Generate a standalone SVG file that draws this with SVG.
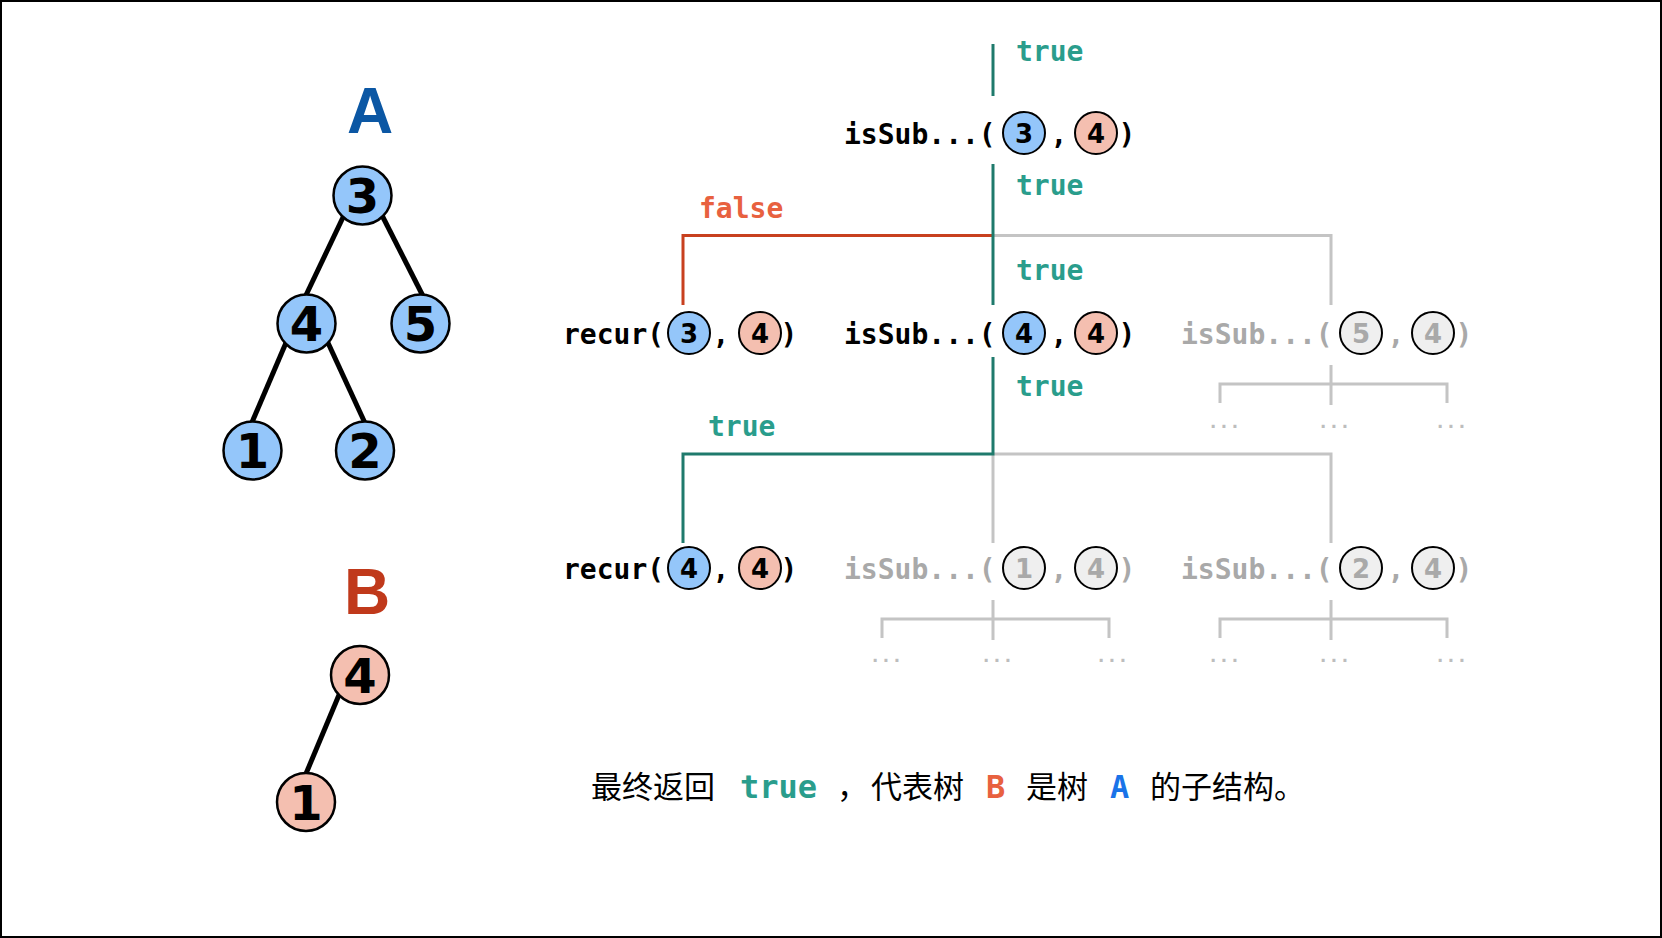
<svg xmlns="http://www.w3.org/2000/svg" width="1662" height="938" viewBox="0 0 1662 938">
<style>
.code{font-family:"DejaVu Sans Mono","Liberation Mono",monospace;font-weight:bold;font-size:28px;fill:#000}
.gtext{fill:#A9A9A9}
.lbl{font-family:"DejaVu Sans Mono","Liberation Mono",monospace;font-weight:bold;font-size:28px}
.tl{fill:#2A9D8C}
.fl{fill:#E8613F}
.dig{font-family:"DejaVu Sans","Liberation Sans",sans-serif;font-weight:bold;font-size:26px;text-anchor:middle;fill:#000}
.gdig{fill:#A9A9A9}
.big{font-family:"DejaVu Sans","Liberation Sans",sans-serif;font-weight:bold;font-size:48px;text-anchor:middle;fill:#000}
.cb{fill:#94C6FA;stroke:#000;stroke-width:2}
.cp{fill:#F4BFB0;stroke:#000;stroke-width:2}
.cg{fill:#EFEFEF;stroke:#000;stroke-width:2}
.tb{fill:#94C6FA;stroke:#000;stroke-width:2.5}
.tp{fill:#F4BFB0;stroke:#000;stroke-width:2.5}
.edge{stroke:#000;stroke-width:5;fill:none}
.teal{stroke:#1F7A6C;stroke-width:3;fill:none}
.red{stroke:#C8401F;stroke-width:3;fill:none}
.grey{stroke:#C4C4C4;stroke-width:3;fill:none}
.dots{font-family:"DejaVu Sans Mono",monospace;font-size:18px;font-weight:bold;fill:#BDBDBD;text-anchor:middle}
.mid{text-anchor:middle}
.cap{font-family:"Noto Sans CJK SC","Noto Sans",sans-serif;font-size:31px;fill:#000}
.capm{font-family:"DejaVu Sans Mono",monospace;font-weight:bold;font-size:32px}
</style>
<rect x="1" y="1" width="1660" height="936" fill="#fff" stroke="#000" stroke-width="2"/>

<!-- Tree A -->
<g id="treeA">
<text x="370" y="133" font-family="Liberation Sans, DejaVu Sans, sans-serif" font-weight="bold" font-size="64" text-anchor="middle" fill="#0B57A4">A</text>
<line class="edge" x1="346.5" y1="210" x2="303.7" y2="300"/>
<line class="edge" x1="379.3" y1="210" x2="425" y2="300"/>
<line class="edge" x1="289.3" y1="335" x2="248.7" y2="430"/>
<line class="edge" x1="324.4" y1="335" x2="368.2" y2="430"/>
<g id="a3"><circle class="tb" cx="362.5" cy="195.5" r="29"/><text class="big" x="362.5" y="213">3</text></g>
<g id="a4"><circle class="tb" cx="306.5" cy="323.5" r="29"/><text class="big" x="306.5" y="341">4</text></g>
<g id="a5"><circle class="tb" cx="420.5" cy="323.5" r="29"/><text class="big" x="420.5" y="341">5</text></g>
<g id="a1"><circle class="tb" cx="252.5" cy="450.5" r="29"/><text class="big" x="252.5" y="468">1</text></g>
<g id="a2"><circle class="tb" cx="365" cy="450.5" r="29"/><text class="big" x="365" y="468">2</text></g>
</g>

<!-- Tree B -->
<g id="treeB">
<text x="367" y="614" font-family="Liberation Sans, DejaVu Sans, sans-serif" font-weight="bold" font-size="64" text-anchor="middle" fill="#C0391B">B</text>
<line class="edge" x1="341.9" y1="688" x2="302.5" y2="782"/>
<g id="b4"><circle class="tp" cx="360" cy="675" r="29"/><text class="big" x="360" y="692.5">4</text></g>
<g id="b1"><circle class="tp" cx="306" cy="802" r="29"/><text class="big" x="306" y="819.5">1</text></g>
</g>

<!-- connectors -->
<g id="connectors">
<path class="grey" d="M993 235.5 H1331 V305"/>
<path class="red" d="M683 305 V235.5 H993"/>
<path class="teal" d="M993 44 V96"/>
<path class="teal" d="M993 164 V305"/>
<path class="grey" d="M993 454 V543"/>
<path class="grey" d="M993 454 H1331 V543"/>
<path class="teal" d="M993 357 V454 H683 V543"/>
<path class="grey" d="M1220 403 V384 H1447 V403 M1331 365 V405"/>
<path class="grey" d="M882 638 V619 H1109 V638 M993 600 V640"/>
<path class="grey" d="M1220 638 V619 H1447 V638 M1331 600 V640"/>
</g>

<!-- edge labels -->
<g id="labels">
<text class="lbl tl" x="1016" y="61">true</text>
<text class="lbl tl" x="1016" y="195">true</text>
<text class="lbl fl" x="699" y="218">false</text>
<text class="lbl tl" x="1016" y="280">true</text>
<text class="lbl tl" x="1016" y="396">true</text>
<text class="lbl tl" x="708" y="436">true</text>
</g>

<!-- Row 1 -->
<g id="isSub_3_4">
<text class="code" x="844" y="144">isSub...(</text>
<circle class="cb" cx="1024" cy="133" r="21"/><text class="dig" x="1024" y="142.5">3</text>
<text class="code mid" x="1059" y="144">,</text>
<circle class="cp" cx="1096" cy="133" r="21"/><text class="dig" x="1096" y="142.5">4</text>
<text class="code mid" x="1127" y="144">)</text>
</g>

<!-- Row 2 -->
<g id="recur_3_4">
<text class="code" x="563" y="344">recur(</text>
<circle class="cb" cx="689" cy="333" r="21"/><text class="dig" x="689" y="342.5">3</text>
<text class="code mid" x="721" y="344">,</text>
<circle class="cp" cx="760" cy="333" r="21"/><text class="dig" x="760" y="342.5">4</text>
<text class="code mid" x="789" y="344">)</text>
</g>
<g id="isSub_4_4">
<text class="code" x="844" y="344">isSub...(</text>
<circle class="cb" cx="1024" cy="333" r="21"/><text class="dig" x="1024" y="342.5">4</text>
<text class="code mid" x="1059" y="344">,</text>
<circle class="cp" cx="1096" cy="333" r="21"/><text class="dig" x="1096" y="342.5">4</text>
<text class="code mid" x="1127" y="344">)</text>
</g>
<g id="isSub_5_4">
<text class="code gtext" x="1181" y="344">isSub...(</text>
<circle class="cg" cx="1361" cy="333" r="21"/><text class="dig gdig" x="1361" y="342.5">5</text>
<text class="code gtext mid" x="1396" y="344">,</text>
<circle class="cg" cx="1433" cy="333" r="21"/><text class="dig gdig" x="1433" y="342.5">4</text>
<text class="code gtext mid" x="1464" y="344">)</text>
<text class="dots" x="1224" y="428">...</text>
<text class="dots" x="1334" y="428">...</text>
<text class="dots" x="1451" y="428">...</text>
</g>

<!-- Row 3 -->
<g id="recur_4_4">
<text class="code" x="563" y="579">recur(</text>
<circle class="cb" cx="689" cy="568" r="21"/><text class="dig" x="689" y="577.5">4</text>
<text class="code mid" x="721" y="579">,</text>
<circle class="cp" cx="760" cy="568" r="21"/><text class="dig" x="760" y="577.5">4</text>
<text class="code mid" x="789" y="579">)</text>
</g>
<g id="isSub_1_4">
<text class="code gtext" x="844" y="579">isSub...(</text>
<circle class="cg" cx="1024" cy="568" r="21"/><text class="dig gdig" x="1024" y="577.5">1</text>
<text class="code gtext mid" x="1059" y="579">,</text>
<circle class="cg" cx="1096" cy="568" r="21"/><text class="dig gdig" x="1096" y="577.5">4</text>
<text class="code gtext mid" x="1127" y="579">)</text>
<text class="dots" x="886" y="662">...</text>
<text class="dots" x="997" y="662">...</text>
<text class="dots" x="1112" y="662">...</text>
</g>
<g id="isSub_2_4">
<text class="code gtext" x="1181" y="579">isSub...(</text>
<circle class="cg" cx="1361" cy="568" r="21"/><text class="dig gdig" x="1361" y="577.5">2</text>
<text class="code gtext mid" x="1396" y="579">,</text>
<circle class="cg" cx="1433" cy="568" r="21"/><text class="dig gdig" x="1433" y="577.5">4</text>
<text class="code gtext mid" x="1464" y="579">)</text>
<text class="dots" x="1224" y="662">...</text>
<text class="dots" x="1334" y="662">...</text>
<text class="dots" x="1451" y="662">...</text>
</g>

<!-- caption -->
<g id="caption">
<text class="cap" x="591" y="798">最终返回</text>
<text class="capm" x="740" y="798" fill="#2A9D8C">true</text>
<text class="cap" x="837" y="798">，</text>
<text class="cap" x="871" y="798">代表树</text>
<text class="capm" x="986" y="798" fill="#E8613F">B</text>
<text class="cap" x="1026" y="798">是树</text>
<text class="capm" x="1110" y="798" fill="#1A73E8">A</text>
<text class="cap" x="1150" y="798">的子结构。</text>
</g>
</svg>
